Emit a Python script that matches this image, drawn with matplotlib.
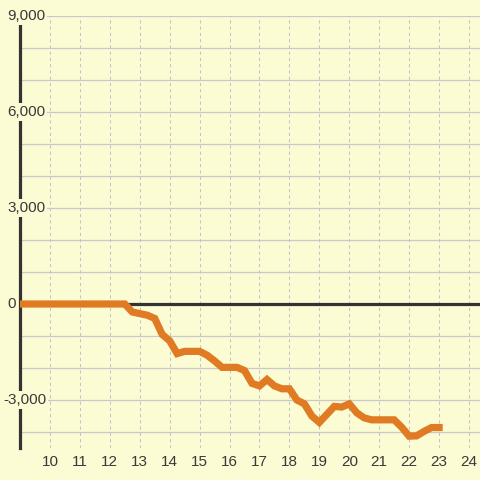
import matplotlib
matplotlib.use("Agg")
from matplotlib import pyplot as plt

# datos de la serie (hora del día, valor acumulado)
horas = [9.0, 9.25, 9.5, 9.75, 10.0, 10.25, 10.5, 10.75, 11.0, 11.25, 11.5, 11.75,
         12.0, 12.25, 12.5, 12.75, 13.0, 13.25, 13.5, 13.75, 14.0, 14.25, 14.5, 14.75,
         15.0, 15.25, 15.5, 15.75, 16.0, 16.25, 16.5, 16.75, 17.0, 17.25, 17.5, 17.75,
         18.0, 18.25, 18.5, 18.75, 19.0, 19.25, 19.5, 19.75, 20.0, 20.25, 20.5, 20.75,
         21.0, 21.25, 21.5, 21.75, 22.0, 22.25, 22.5, 22.75, 23.0]
valores = [0, 0, 0, 0, 0, 0, 0, 0, 0, 0, 0, 0,
           0, 0, 0, -250, -300, -350, -450, -950, -1150, -1550, -1480, -1480,
           -1480, -1600, -1780, -1980, -1980, -1980, -2080, -2480, -2560, -2360, -2560, -2650,
           -2650, -3000, -3120, -3500, -3700, -3450, -3200, -3220, -3120, -3400, -3560, -3620,
           -3620, -3620, -3620, -3850, -4130, -4120, -3980, -3860, -3860]

xticks = list(range(10, 25))
yticks_grid = list(range(-4000, 9001, 1000))
yticks_label = [9000, 6000, 3000, 0, -3000]

fondo = "#fbfbd4"
gris_texto = "#3a3a3a"

fig = plt.figure(figsize=(4.8, 4.8), dpi=100)
fig.patch.set_facecolor(fondo)
ax = fig.add_axes([20/480, 32/480, 460/480, 432/480])
ax.set_facecolor(fondo)

ax.set_xlim(9, 24 + 11/30)
ax.set_ylim(-4500, 9000)

# rejilla
for yv in yticks_grid:
    ax.axhline(yv, color="#c9c9c9", lw=0.9, zorder=1)
for xv in xticks:
    ax.axvline(xv, color="#c4c4c4", lw=0.75, ls=(0, (3, 3)), zorder=1)

# linea de cero y eje vertical
ax.axhline(0, color="#333333", lw=2.3, zorder=2)
ax.axvline(9, color="#333333", lw=2.3, zorder=3, clip_on=False)

ax.plot(horas, valores, color="#e07b24", lw=5.2, solid_joinstyle="miter", zorder=4)

for s in ax.spines.values():
    s.set_visible(False)

ax.set_xticks(xticks)
ax.set_xticklabels([str(t) for t in xticks])
ax.set_yticks([])
ax.tick_params(axis="x", length=0, pad=5, labelsize=11, labelcolor=gris_texto)
for lbl in ax.get_xticklabels():
    lbl.set_family("Liberation Sans")

for yv in yticks_label:
    texto = f"{yv:,}"
    xpx = 3 if yv < 0 else 7
    ax.text((xpx - 20) / 460, yv, texto, transform=ax.get_yaxis_transform(),
            ha="left", va="center", fontsize=11, color=gris_texto,
            family="Liberation Sans", zorder=5, clip_on=False,
            bbox=dict(boxstyle="square,pad=0.15", fc=fondo, ec="none"))

plt.savefig("out.png", dpi=100, facecolor=fondo)
